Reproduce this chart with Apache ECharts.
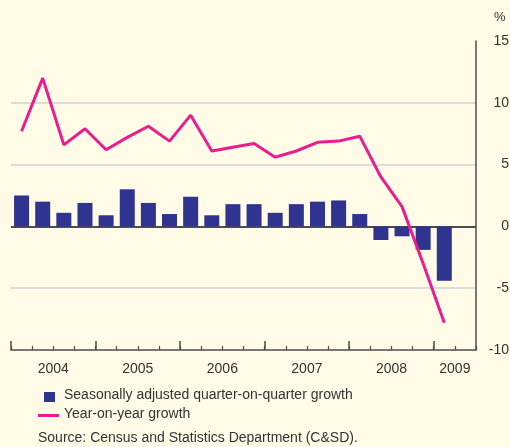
<!DOCTYPE html>
<html>
<head>
<meta charset="utf-8">
<script src="https://cdn.jsdelivr.net/npm/echarts@6/dist/echarts.min.js"></script>
<style>
  html, body { margin: 0; padding: 0; background: #FFFBE7; }
  #chart { width: 510px; height: 447px; }
</style>
</head>
<body>
<div id="chart"></div>
<script>
// quarters 2004Q1 .. 2009Q2 (last quarter has no data yet)
const quarters = [
  '2004Q1', '2004Q2', '2004Q3', '2004Q4',
  '2005Q1', '2005Q2', '2005Q3', '2005Q4',
  '2006Q1', '2006Q2', '2006Q3', '2006Q4',
  '2007Q1', '2007Q2', '2007Q3', '2007Q4',
  '2008Q1', '2008Q2', '2008Q3', '2008Q4',
  '2009Q1', '2009Q2'
]

// seasonally adjusted quarter-on-quarter growth (%)
const qoqGrowth = [
  2.5, 2.0, 1.1, 1.9,
  0.9, 3.0, 1.9, 1.0,
  2.4, 0.9, 1.8, 1.8,
  1.1, 1.8, 2.0, 2.1,
  1.0, -1.1, -0.8, -1.9,
  -4.4
]

// year-on-year growth (%)
const yoyGrowth = [
  7.7, 12.0, 6.6, 7.9,
  6.2, 7.2, 8.1, 6.9,
  9.0, 6.1, 6.4, 6.7,
  5.6, 6.1, 6.8, 6.9,
  7.3, 4.0, 1.6, -3.0,
  -7.8
]

// year labels sit in the middle of each year's span (in quarter units)
const yearLabelPos = [2, 6, 10, 14, 18, 21]
const yearStartPos = [0, 4, 8, 12, 16, 20]

const textColor = '#333'
const axisColor = '#4d4d4d'
const fontFamily = 'Liberation Sans, Arial, sans-serif'

const chart = echarts.init(document.getElementById('chart'))

chart.setOption({
  backgroundColor: '#FFFBE7',
  animation: false,
  grid: { left: 11, right: 34, top: 41, bottom: 97, outerBoundsMode: 'none', containLabel: false },
  xAxis: [
    {
      // quarter axis: carries the series and the short ticks
      type: 'category',
      position: 'bottom',
      data: quarters,
      boundaryGap: true,
      axisLine: { onZero: false, lineStyle: { color: axisColor, width: 1.5 } },
      axisTick: { show: true, interval: 0, inside: true, length: 4, lineStyle: { color: axisColor, width: 1.2 } },
      axisLabel: { show: false },
      splitLine: { show: false }
    },
    {
      // year axis: long ticks and year labels
      type: 'value',
      position: 'bottom',
      min: 0,
      max: 22,
      axisLine: { show: false, onZero: false },
      axisTick: {
        show: true,
        inside: true,
        length: 9,
        customValues: yearStartPos,
        lineStyle: { color: axisColor, width: 1.5 }
      },
      axisLabel: {
        show: true,
        customValues: yearLabelPos,
        formatter: (v) => String(2004 + Math.floor(v / 4)),
        color: textColor,
        fontSize: 14,
        fontFamily: fontFamily,
        margin: 12
      },
      splitLine: { show: false }
    }
  ],
  yAxis: {
    type: 'value',
    position: 'right',
    min: -10,
    max: 15,
    interval: 5,
    name: '%',
    nameLocation: 'end',
    nameGap: 17,
    nameTextStyle: { color: textColor, fontSize: 13, fontFamily: fontFamily, align: 'left', padding: [0, 0, 0, 18] },
    axisLine: { show: true, onZero: false, lineStyle: { color: axisColor, width: 1.5 } },
    axisTick: { show: false },
    axisLabel: {
      color: textColor,
      fontSize: 14,
      fontFamily: fontFamily,
      align: 'right',
      margin: 33
    },
    splitLine: {
      show: true,
      lineStyle: {
        color: ['rgba(0,0,0,0)', '#DCDCDA', '#4d4d4d', '#DCDCDA', '#DCDCDA', 'rgba(0,0,0,0)'],
        width: 2
      }
    }
  },
  series: [
    {
      name: 'Seasonally adjusted quarter-on-quarter growth',
      type: 'bar',
      data: qoqGrowth,
      barWidth: 15,
      itemStyle: { color: '#2E3490' },
      z: 2
    },
    {
      name: 'Year-on-year growth',
      type: 'line',
      data: yoyGrowth,
      symbol: 'none',
      lineStyle: { color: '#E91E8C', width: 3 },
      z: 3
    }
  ],
  graphic: [
    // legend
    { type: 'rect', left: 44, top: 392, shape: { width: 11, height: 10 }, style: { fill: '#2E3490' } },
    { type: 'text', left: 64, top: 388, style: { text: 'Seasonally adjusted quarter-on-quarter growth', fill: textColor, font: '14px ' + fontFamily } },
    { type: 'rect', left: 38, top: 414, shape: { width: 21, height: 3 }, style: { fill: '#E91E8C' } },
    { type: 'text', left: 64, top: 407, style: { text: 'Year-on-year growth', fill: textColor, font: '14px ' + fontFamily } },
    // source note
    { type: 'text', left: 38, top: 431, style: { text: 'Source: Census and Statistics Department (C&SD).', fill: textColor, font: '14px ' + fontFamily } }
  ]
})
</script>
</body>
</html>
